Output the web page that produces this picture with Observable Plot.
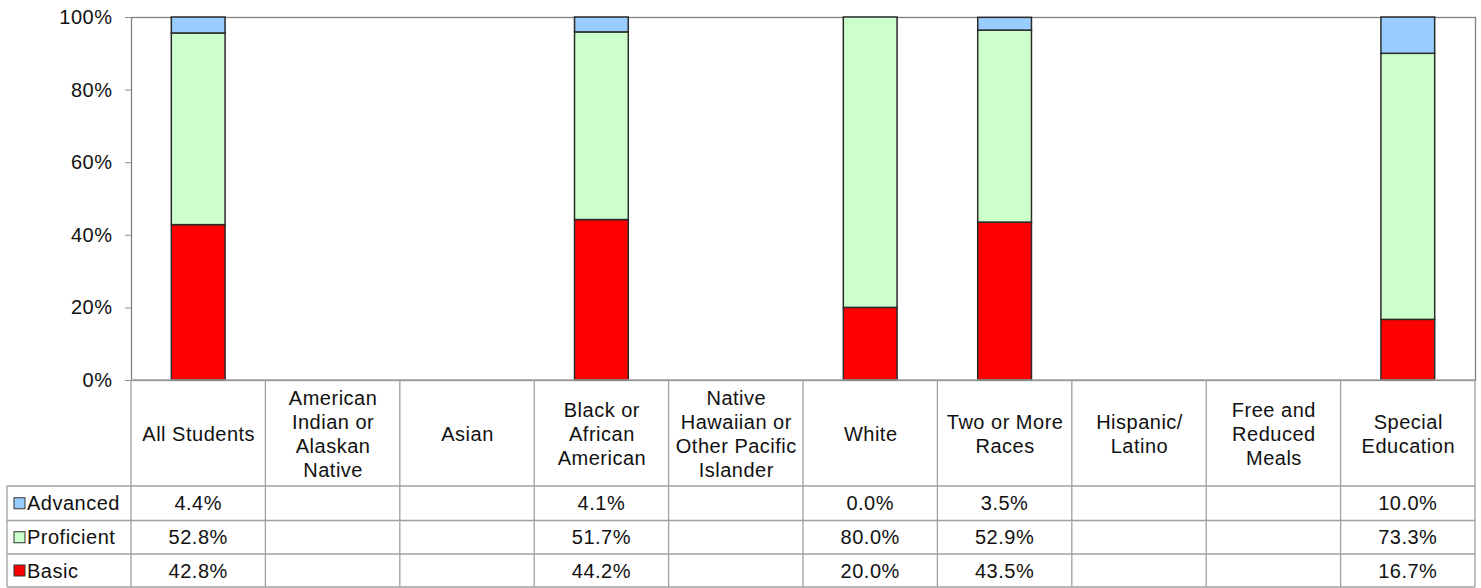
<!DOCTYPE html>
<html><head><meta charset="utf-8">
<script src="https://cdn.jsdelivr.net/npm/d3@7"></script>
<script src="https://cdn.jsdelivr.net/npm/@observablehq/plot@0.6"></script>
<style>body{margin:0;background:#fff}</style>
</head><body><div id="chart"></div>
<script>
const categories = ["All Students","American Indian or Alaskan Native","Asian","Black or African American","Native Hawaiian or Other Pacific Islander","White","Two or More Races","Hispanic/ Latino","Free and Reduced Meals","Special Education"];
const categoryLabels = ["All Students","American\nIndian or\nAlaskan\nNative","Asian","Black or\nAfrican\nAmerican","Native\nHawaiian or\nOther Pacific\nIslander","White","Two or More\nRaces","Hispanic/\nLatino","Free and\nReduced\nMeals","Special\nEducation"];
const levels = ["Advanced","Proficient","Basic"];
const levelColors = ["#99CCFF","#CCFFCC","#FF0000"];
const advanced = [4.4,null,null,4.1,null,0.0,3.5,null,null,10.0];
const proficient = [52.8,null,null,51.7,null,80.0,52.9,null,null,73.3];
const basic = [42.8,null,null,44.2,null,20.0,43.5,null,null,16.7];
const yTicks = [0,0.2,0.4,0.6,0.8,1];

const seriesByLevel = {Advanced: advanced, Proficient: proficient, Basic: basic};
const rows = [];
categories.forEach((cat, i) => {
  ["Basic","Proficient","Advanced"].forEach(level => {
    const v = seriesByLevel[level][i];
    if (v != null) rows.push({cat, level, value: v / 100});
  });
});

const W = 1481, H = 588;
const FONT = "'Liberation Sans', Arial, sans-serif";
const chart = Plot.plot({
  width: W, height: H,
  marginTop: 17, marginBottom: 208, marginLeft: 131, marginRight: 6,
  style: {fontFamily: FONT, fontSize: "20px", letterSpacing: "0.5px", color: "#111", background: "#fff", overflow: "visible"},
  x: {type: "band", domain: categories, paddingInner: 0.6, paddingOuter: 0.3, round: false, label: null},
  y: {domain: [0, 1], label: null},
  color: {domain: levels, range: levelColors},
  marks: [
    Plot.frame({stroke: "#808080", strokeWidth: 1.3}),
    Plot.axisY({ticks: yTicks, tickFormat: d3.format(".0%"), tickSize: 6, tickPadding: 13, stroke: "#909090", fill: "#111", label: null}),
    Plot.axisX({tickSize: 0, tickPadding: 53, lineAnchor: "middle", lineHeight: 1.2, fill: "#111", label: null,
      tickFormat: d => categoryLabels[categories.indexOf(d)]}),
    Plot.barY(rows, {x: "cat", y: "value", fill: "level", stroke: "#2a2a2a", strokeWidth: 1.5, order: ["Basic","Proficient","Advanced"]})
  ]
});
document.getElementById("chart").appendChild(chart);

// data table below the chart, aligned to the x scale
const xs = chart.scale("x");
const step = xs.step;
const colL = xs.apply(categories[0]) - (step - xs.bandwidth) / 2;
const colR = colL + step * categories.length;
const legendL = 7;
const yTop = H - 208;
const rowLines = [486, 520.5, 554, 587];
const svg = d3.select(chart);
const grid = svg.append("g").attr("stroke", "#a0a0a0").attr("stroke-width", 1.3).attr("fill", "none");
grid.append("line").attr("x1", colL).attr("x2", colR).attr("y1", yTop).attr("y2", yTop);
rowLines.forEach(y => grid.append("line").attr("x1", legendL).attr("x2", colR).attr("y1", y).attr("y2", y));
for (let i = 0; i <= categories.length; i++) {
  const x = colL + i * step;
  grid.append("line").attr("x1", x).attr("x2", x).attr("y1", yTop).attr("y2", rowLines[3]);
}
grid.append("line").attr("x1", legendL).attr("x2", legendL).attr("y1", rowLines[0]).attr("y2", rowLines[3]);

const tg = svg.append("g").attr("font-family", FONT).attr("font-size", 20).attr("fill", "#111");
levels.forEach((level, r) => {
  const cy = (rowLines[r] + rowLines[r + 1]) / 2;
  tg.append("rect").attr("x", 14).attr("y", cy - 5.5).attr("width", 11).attr("height", 11)
    .attr("fill", levelColors[r]).attr("stroke", "#333").attr("stroke-width", 1);
  tg.append("text").attr("x", 27).attr("y", cy).attr("dy", "0.35em").attr("text-anchor", "start").text(level);
  const vals = seriesByLevel[level];
  categories.forEach((cat, i) => {
    if (vals[i] == null) return;
    tg.append("text").attr("x", xs.apply(cat) + xs.bandwidth / 2).attr("y", cy).attr("dy", "0.35em")
      .attr("text-anchor", "middle").text(d3.format(".1f")(vals[i]) + "%");
  });
});
</script></body></html>
